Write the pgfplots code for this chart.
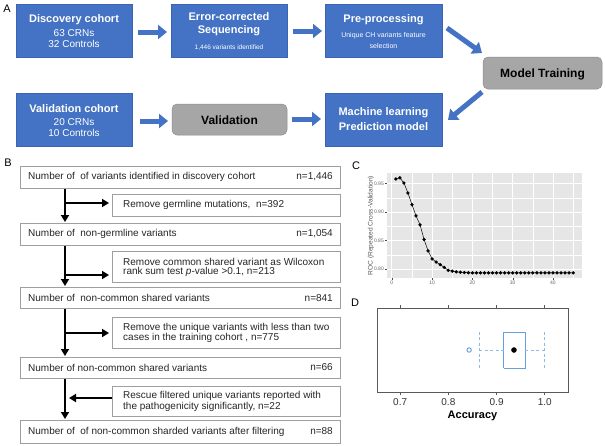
\documentclass[border=0pt]{standalone}
\usepackage{fontspec}
\setmainfont{Liberation Sans}
\usepackage{pgfplots}
\pgfplotsset{compat=1.18}
\usetikzlibrary{arrows.meta}
\definecolor{ablue}{HTML}{4472C4}
\definecolor{ablueedge}{HTML}{3A64B4}
\definecolor{agray}{HTML}{A6A6A6}
\definecolor{ggbg}{HTML}{E6E6E6}
\definecolor{boxblue}{HTML}{64A0DC}
\definecolor{whiskblue}{HTML}{8CBBE8}
\newcommand\fs[1]{\fontsize{#1}{#1}\selectfont}
\begin{document}
\begin{tikzpicture}[x=1pt,y=1pt]
\useasboundingbox[fill=white] (0,0) rectangle (605,-445);
% ---------------- Panel A ----------------
\node[font=\fs{11}, inner sep=0] at (7,-9) {A};
\tikzset{bluebox/.style={fill=ablue, draw=ablueedge, line width=0.6pt},
  graybox/.style={fill=agray, draw=agray!85!black, line width=0.5pt, rounded corners=5pt},
  barrow/.style={ablue, line width=5pt, -{Triangle[length=9pt,width=14pt]}},
  wb/.style={white, font=\bfseries\fs{11}, inner sep=0},
  wr/.style={white, font=\fs{10}, inner sep=0},
  ws/.style={white, font=\fs{6.5}, inner sep=0}}
\draw[bluebox] (16,-4) rectangle (132,-57);
\node[wb] at (74,-20) {Discovery cohort};
\node[wr] at (74,-33) {63 CRNs};
\node[wr] at (74,-44) {32 Controls};
\draw[bluebox] (171,-4) rectangle (287,-57);
\node[wb] at (229,-17) {Error-corrected};
\node[wb] at (229,-31) {Sequencing};
\node[ws] at (229,-47.5) {1,446 variants identified};
\draw[bluebox] (325,-4) rectangle (442,-57);
\node[wb] at (383.5,-20) {Pre-processing};
\node[ws, font=\fs{7}] at (383.5,-36) {Unique CH variants feature};
\node[ws, font=\fs{7}] at (383.5,-46) {selection};
\draw[graybox] (483,-57) rectangle (602,-89);
\node[font=\bfseries\fs{12}, inner sep=0] at (542.5,-74) {Model Training};
\draw[bluebox] (16,-93) rectangle (132,-146);
\node[wb] at (74,-109) {Validation cohort};
\node[wr] at (74,-122) {20 CRNs};
\node[wr] at (74,-133) {10 Controls};
\draw[graybox] (172,-104) rectangle (287,-135);
\node[font=\bfseries\fs{12}, inner sep=0] at (229.5,-120) {Validation};
\draw[bluebox] (325,-93) rectangle (442,-146);
\node[wb] at (383.5,-113) {Machine learning};
\node[wb] at (383.5,-127) {Prediction model};
\draw[barrow] (138,-32) -- (167,-32);
\draw[barrow] (293,-31) -- (322,-31);
\draw[barrow] (140,-121) -- (168,-121);
\draw[barrow] (292,-119) -- (321,-119);
\draw[barrow] (447,-28) -- (482,-53);
\draw[barrow] (482,-92) -- (448,-120);
% ---------------- Panel B ----------------
\node[font=\fs{11}, inner sep=0] at (8,-163) {B};
\tikzset{bbox/.style={draw=gray!75, line width=0.8pt, fill=white},
  bt/.style={font=\fs{10}, inner sep=0, anchor=west, text=black!85},
  bn/.style={font=\fs{10}, inner sep=0, anchor=east, text=black!85},
  karrow/.style={black, line width=1.8pt, -{Triangle[length=7pt,width=8pt]}}}
% vertical arrows and branches
\draw[karrow] (65,-188) -- (65,-222);
\draw[karrow] (65,-203) -- (109,-203);
\draw[karrow] (65,-245) -- (65,-286);
\draw[karrow] (65,-275) -- (109,-275);
\draw[karrow] (65,-308) -- (65,-356);
\draw[karrow] (65,-333) -- (109,-333);
\draw[karrow] (65,-378) -- (65,-419);
\draw[karrow] (112,-398) -- (69,-398);
% boxes
\draw[bbox] (20,-166) rectangle (340,-188);
\node[bt] at (28,-177) {Number of\ \ of variants identified in discovery cohort};
\node[bn] at (333,-177) {n=1,446};
\draw[bbox] (112,-194) rectangle (340,-216);
\node[bt] at (123,-205) {Remove germline mutations,\ \ n=392};
\draw[bbox] (20,-223) rectangle (340,-245);
\node[bt] at (28,-234) {Number of\ \ non-germline variants};
\node[bn] at (333,-234) {n=1,054};
\draw[bbox] (112,-251) rectangle (340,-282);
\node[bt] at (123,-261.5) {Remove common shared variant as Wilcoxon};
\node[bt] at (123,-272) {rank sum test \textit{p}-value >0.1, n=213};
\draw[bbox] (20,-287) rectangle (340,-308);
\node[bt] at (28,-298) {Number of\ \ non-common shared variants};
\node[bn] at (333,-298) {n=841};
\draw[bbox] (112,-317) rectangle (340,-348);
\node[bt] at (123,-327.5) {Remove the unique variants with less than two};
\node[bt] at (123,-338) {cases in the training cohort , n=775};
\draw[bbox] (20,-357) rectangle (340,-378);
\node[bt] at (28,-367.5) {Number of non-common shared variants};
\node[bn] at (333,-367.5) {n=66};
\draw[bbox] (112,-386) rectangle (340,-416);
\node[bt] at (123,-396) {Rescue filtered unique variants reported with};
\node[bt] at (123,-406.5) {the pathogenicity significantly, n=22};
\draw[bbox] (20,-420) rectangle (340,-443);
\node[bt] at (28,-431.5) {Number of\ \ of non-common sharded variants after filtering};
\node[bn] at (333,-431.5) {n=88};
% ---------------- Panel C ----------------
\node[font=\fs{11}, inner sep=0] at (356,-166) {C};
\begin{axis}[at={(387pt,-173pt)}, anchor=north west, scale only axis,
  width=195pt, height=105pt,
  xmin=-1.2, xmax=47.2, ymin=0.7845, ymax=0.9685,
  axis background/.style={fill=ggbg}, axis line style={draw=none},
  grid=both, major grid style={white, line width=0.8pt},
  minor grid style={white, line width=0.4pt},
  xtick={0,10,20,30,40}, xticklabels={0,10,20,30,40},
  minor xtick={5,15,25,35,45},
  ytick={0.80,0.85,0.90,0.95}, yticklabels={0.80,0.85,0.90,0.95},
  minor ytick={0.825,0.875,0.925},
  tick align=outside, xtick pos=lower, ytick pos=left,
  major tick length=2pt, minor tick length=0pt,
  tick style={gray!60!black, line width=0.4pt},
  tick label style={font=\fs{5}, text=gray!80!black, inner sep=1pt},
  ylabel={ROC (Repeated Cross-Validation)},
  ylabel style={font=\fs{6.6}, text=gray!70!black, inner sep=0pt},
  ylabel shift=-1pt,
  clip=false]
\addplot[black, line width=0.5pt, mark=*, mark size=1.4pt] coordinates {
(1,0.958)(2,0.960)(3,0.951)(4,0.9335)(5,0.913)(6,0.8935)(7,0.8777)(8,0.852)
(9,0.832)(10,0.818)(11,0.8124)(12,0.808)(13,0.803)(14,0.798)(15,0.7965)
(16,0.7953)(17,0.7947)(18,0.794)(19,0.7937)(20,0.7935)(21,0.7935)(22,0.7935)
(23,0.7935)(24,0.7935)(25,0.7935)(26,0.7935)(27,0.7935)(28,0.7935)(29,0.7935)
(30,0.7935)(31,0.7935)(32,0.7935)(33,0.7935)(34,0.7935)(35,0.7935)(36,0.7935)
(37,0.7935)(38,0.7935)(39,0.7935)(40,0.7935)(41,0.7935)(42,0.7935)(43,0.7935)
(44,0.7935)(45,0.7935)};
\end{axis}
% ---------------- Panel D ----------------
\node[font=\fs{11}, inner sep=0] at (355,-303) {D};
\begin{axis}[at={(377pt,-308pt)}, anchor=north west, scale only axis,
  width=191pt, height=84pt,
  xmin=0.652, xmax=1.048, ymin=0, ymax=1,
  xtick={0.7,0.8,0.9,1.0}, xticklabels={0.7,0.8,0.9,1.0},
  ytick=\empty, tick align=outside, xtick pos=both, xticklabel pos=lower,
  major tick length=3pt,
  axis line style={gray!70!black, line width=0.8pt},
  tick style={gray!70!black, line width=0.8pt},
  tick label style={font=\fs{10}, text=black!80},
  xlabel={\textbf{Accuracy}}, xlabel style={font=\fs{11}, inner sep=0pt, yshift=-2pt},
  clip=false]
\addplot[boxblue, line width=0.9pt] coordinates {(0.915,0.286)(0.959,0.286)(0.959,0.714)(0.915,0.714)(0.915,0.286)};
\addplot[whiskblue, line width=0.9pt, dash pattern=on 3pt off 2.5pt] coordinates {(0.864,0.5)(0.915,0.5)};
\addplot[whiskblue, line width=0.9pt, dash pattern=on 3pt off 2.5pt] coordinates {(0.959,0.5)(1.0,0.5)};
\addplot[whiskblue, line width=0.9pt, dash pattern=on 3pt off 2.5pt] coordinates {(0.864,0.29)(0.864,0.71)};
\addplot[whiskblue, line width=0.9pt, dash pattern=on 3pt off 2.5pt] coordinates {(1.0,0.29)(1.0,0.71)};
\addplot[only marks, mark=*, mark size=2.5pt, black] coordinates {(0.936,0.5)};
\addplot[only marks, mark=o, mark size=2.2pt, boxblue, line width=0.9pt] coordinates {(0.843,0.5)};
\end{axis}
\end{tikzpicture}
\end{document}
